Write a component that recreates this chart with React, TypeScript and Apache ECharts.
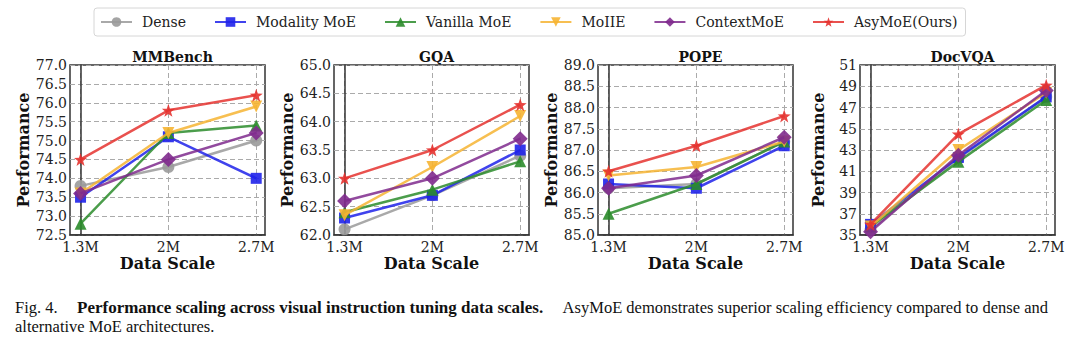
import React, { useEffect, useRef } from "react";
import * as echarts from "echarts";

const categories = ["1.3M", "2M", "2.7M"];
const methods = ["Dense", "Modality MoE", "Vanilla MoE", "MoIIE", "ContextMoE", "AsyMoE(Ours)"];
const benchmarks = ["MMBench", "GQA", "POPE", "DocVQA"];

// scores per benchmark, rows in the order of `methods`
const mmbenchScores = [
  [73.8, 74.3, 75.0],
  [73.5, 75.1, 74.0],
  [72.8, 75.2, 75.4],
  [73.6, 75.2, 75.9],
  [73.6, 74.5, 75.2],
  [74.5, 75.8, 76.2],
];
const gqaScores = [
  [62.1, 62.7, 63.4],
  [62.3, 62.7, 63.5],
  [62.4, 62.8, 63.3],
  [62.35, 63.2, 64.1],
  [62.6, 63.0, 63.7],
  [63.0, 63.5, 64.3],
];
const popeScores = [
  [86.1, 86.2, 87.2],
  [86.2, 86.1, 87.1],
  [85.5, 86.2, 87.2],
  [86.4, 86.6, 87.2],
  [86.1, 86.4, 87.3],
  [86.5, 87.1, 87.8],
];
const docvqaScores = [
  [35.5, 42.2, 48.0],
  [36.0, 42.3, 48.0],
  [35.8, 41.9, 47.7],
  [35.8, 43.0, 48.4],
  [35.3, 42.5, 48.6],
  [36.0, 44.5, 49.1],
];
const yMins = [72.5, 62.0, 85.0, 35];
const yMaxs = [77.0, 65.0, 89.0, 51];
const yIntervals = [0.5, 0.5, 0.5, 2];
const yDecimals = [1, 1, 1, 0];

const allScores = [mmbenchScores, gqaScores, popeScores, docvqaScores];

const colors = ["#9a9a9a", "#1f22ea", "#2b8c2b", "#f6b432", "#7f2a8d", "#e5322f"];
const STAR =
  "path://M0,-10L2.35,-3.24L9.51,-3.09L3.8,1.24L5.88,8.09L0,4L-5.88,8.09L-3.8,1.24L-9.51,-3.09L-2.35,-3.24Z";
const symbols = ["circle", "rect", "triangle", "triangle", "diamond", STAR];
const symbolRotates = [0, 0, 0, 180, 0, 0];
const symbolSizes = [12, 11, 12, 12, 15, 13];

const gridLefts = [70, 334, 598, 860];
const GRID_W = 195;
const GRID_TOP = 65;
const GRID_H = 170;

const SERIF = "DejaVu Serif";
const CAPTION_FONT = "Liberation Serif";

export default function App() {
  const ref = useRef<HTMLDivElement>(null);
  useEffect(() => {
    if (!ref.current) return;
    const chart = echarts.init(ref.current, null, { renderer: "svg" });
    const grids: any[] = [];
    const xAxes: any[] = [];
    const yAxes: any[] = [];
    const titles: any[] = [];
    const series: any[] = [];
    benchmarks.forEach((b, gi) => {
      grids.push({
        left: gridLefts[gi],
        top: GRID_TOP,
        width: GRID_W,
        height: GRID_H,
        show: true,
        borderColor: "#333",
        borderWidth: 1.5,
        backgroundColor: "transparent",
      });
      titles.push({
        text: b,
        left: gridLefts[gi] + GRID_W / 2,
        top: 45,
        textAlign: "center",
        textStyle: { fontFamily: SERIF, fontSize: 14, fontWeight: "bold", color: "#111" },
      });
      xAxes.push({
        type: "value",
        gridIndex: gi,
        min: -0.12,
        max: 2.1,
        name: "Data Scale",
        nameLocation: "middle",
        nameGap: 20,
        nameTextStyle: { fontFamily: SERIF, fontSize: 16, fontWeight: "bold", color: "#111" },
        axisLine: { show: true, lineStyle: { color: "#333", width: 1.5 } },
        axisTick: { show: false, customValues: [0, 1, 2] },
        axisLabel: {
          customValues: [0, 1, 2],
          formatter: (v: number) => categories[Math.round(v)] ?? "",
          fontFamily: SERIF,
          fontSize: 14,
          color: "#222",
          margin: 5,
        },
        splitLine: { show: true, lineStyle: { color: "#aaa", type: [5, 3], width: 1 } },
      });
      yAxes.push({
        type: "value",
        gridIndex: gi,
        min: yMins[gi],
        max: yMaxs[gi],
        interval: yIntervals[gi],
        name: "Performance",
        nameLocation: "middle",
        nameRotate: 90,
        nameGap: 34,
        nameTextStyle: { fontFamily: SERIF, fontSize: 16, fontWeight: "bold", color: "#111" },
        axisLine: { show: true, lineStyle: { color: "#333", width: 1.5 } },
        axisTick: { show: false },
        axisLabel: {
          formatter: (v: number) => v.toFixed(yDecimals[gi]),
          fontFamily: SERIF,
          fontSize: 14,
          color: "#222",
          margin: 3,
        },
        splitLine: { show: true, lineStyle: { color: "#aaa", type: [5, 3], width: 1 } },
      });
      allScores[gi].forEach((vals, mi) => {
        series.push({
          type: "line",
          name: methods[mi],
          xAxisIndex: gi,
          yAxisIndex: gi,
          data: vals.map((v, i) => [i, v]),
          symbol: symbols[mi],
          symbolSize: symbolSizes[mi],
          symbolRotate: symbolRotates[mi],
          showAllSymbol: true,
          lineStyle: { color: colors[mi], width: 2.5, opacity: 0.85 },
          itemStyle: { color: colors[mi], opacity: 0.9 },
          emphasis: { disabled: true },
          z: 2 + mi,
        });
      });
    });
    chart.setOption({
      animation: false,
      backgroundColor: "#fff",
      title: titles,
      legend: {
        data: methods,
        left: 94,
        top: 8,
        itemWidth: 31,
        itemHeight: 12,
        itemGap: 28,
        padding: [7, 8, 7, 6],
        borderColor: "#d6d6d6",
        borderWidth: 1,
        borderRadius: 3,
        textStyle: { fontFamily: SERIF, fontSize: 14, color: "#222", padding: [0, 0, 0, 5] },
      },
      grid: grids,
      xAxis: xAxes,
      yAxis: yAxes,
      series,
      graphic: [
        {
          type: "text",
          left: 15,
          top: 299,
          style: { text: "Fig. 4.", fontFamily: CAPTION_FONT, fontSize: 16.5, fill: "#111" },
        },
        {
          type: "text",
          left: 77,
          top: 299,
          style: {
            text: "Performance scaling across visual instruction tuning data scales.",
            fontFamily: CAPTION_FONT,
            fontSize: 17,
            fontWeight: "bold",
            fill: "#111",
          },
        },
        {
          type: "text",
          right: 32,
          top: 299,
          style: {
            text: "AsyMoE demonstrates superior scaling efficiency compared to dense and",
            fontFamily: CAPTION_FONT,
            fontSize: 16.5,
            fill: "#111",
          },
        },
        {
          type: "text",
          left: 15,
          top: 318,
          style: { text: "alternative MoE architectures.", fontFamily: CAPTION_FONT, fontSize: 16.5, fill: "#111" },
        },
      ],
    });
    return () => chart.dispose();
  }, []);
  return (
    <div
      ref={ref}
      style={{ position: "fixed", left: 0, top: 0, width: 1080, height: 346, background: "#fff" }}
    />
  );
}
